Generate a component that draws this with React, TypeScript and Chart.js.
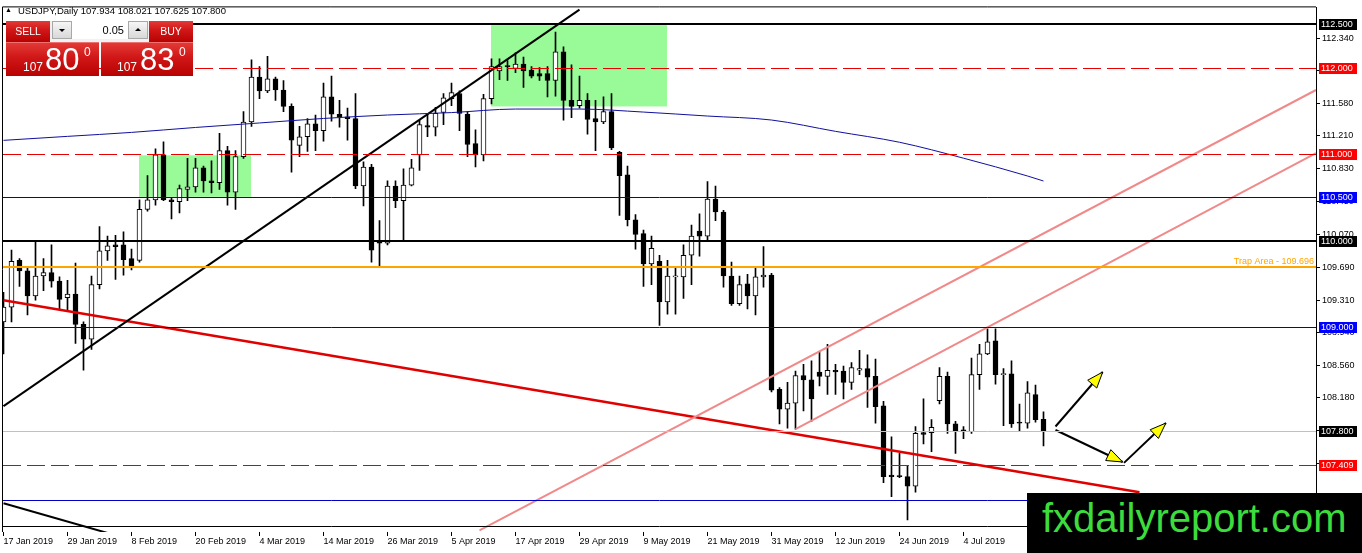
import React, { useEffect, useRef } from "react";
import { Chart, registerables } from "chart.js";

Chart.register(...registerables);

// ---------- DATA ----------
const SYMBOL = "USDJPY,Daily";

const OPEN = [
  109.06, 109.23, 109.77, 109.65, 109.36, 109.59, 109.63, 109.53, 109.34, 109.38,
  109.03, 108.86, 109.49, 109.88, 109.95, 109.95, 109.79, 109.77, 110.36, 110.47,
  110.99, 110.47, 110.45, 110.59, 110.62, 110.84, 110.69, 110.67, 111.04, 110.56,
  110.97, 111.37, 111.89, 111.73, 111.87, 111.74, 111.55, 111.10, 111.20, 111.35,
  111.27, 111.66, 111.46, 111.43, 111.41, 110.63, 110.85, 110.00, 109.97, 110.63,
  110.46, 110.64, 110.99, 111.33, 111.31, 111.48, 111.64, 111.70, 111.46, 111.12,
  110.99, 111.64, 111.96, 112.02, 111.99, 112.04, 111.97, 111.93, 111.93, 111.85,
  112.18, 111.62, 111.56, 111.62, 111.41, 111.37, 111.49, 111.02, 110.76, 110.24,
  110.08, 109.73, 109.76, 109.29, 109.58, 109.58, 109.83, 110.11, 110.05, 110.48,
  110.33, 109.59, 109.27, 109.50, 109.36, 109.58, 109.60, 108.28, 108.05, 108.12,
  108.44, 108.39, 108.48, 108.43, 108.50, 108.49, 108.36, 108.50, 108.52, 108.43,
  108.09, 107.29, 107.28, 107.27, 107.16, 107.78, 107.78, 108.15, 108.43, 107.88,
  107.81, 107.79, 108.45, 108.69, 108.84, 108.45, 108.46, 107.90, 107.89, 108.22,
  107.934,
];
const HIGH = [
  109.40, 109.89, 109.79, 109.69, 110.00, 109.79, 109.95, 109.58, 109.54, 109.74,
  109.06, 109.59, 110.16, 110.05, 110.06, 110.10, 109.90, 110.47, 110.75, 111.06,
  111.14, 110.50, 110.64, 110.95, 110.95, 110.86, 110.92, 111.24, 111.09, 111.04,
  111.49, 112.09, 112.01, 112.13, 111.89, 111.85, 111.58, 111.32, 111.41, 111.45,
  111.82, 111.90, 111.62, 111.53, 111.70, 110.91, 110.88, 110.23, 110.69, 110.69,
  110.83, 110.94, 111.39, 111.47, 111.54, 111.70, 111.82, 111.73, 111.49, 111.28,
  111.69, 112.10, 112.10, 112.08, 112.17, 112.12, 112.01, 112.00, 112.01, 112.41,
  112.24, 112.03, 111.90, 111.70, 111.62, 111.66, 111.70, 111.03, 110.86, 110.30,
  110.12, 110.05, 109.83, 109.77, 109.69, 109.95, 110.18, 110.31, 110.68, 110.63,
  110.35, 109.75, 109.59, 109.61, 109.68, 109.93, 109.62, 108.30, 108.36, 108.49,
  108.57, 108.61, 108.72, 108.80, 108.57, 108.55, 108.59, 108.73, 108.68, 108.63,
  108.14, 107.73, 107.54, 107.40, 107.85, 108.17, 107.93, 108.53, 108.48, 107.91,
  107.85, 108.64, 108.80, 108.98, 108.98, 108.52, 108.61, 108.11, 108.37, 108.33,
  108.021,
];
const LOW = [
  108.69, 109.06, 109.47, 109.14, 109.31, 109.42, 109.46, 109.21, 109.18, 108.81,
  108.50, 108.74, 109.44, 109.77, 109.55, 109.60, 109.66, 109.75, 110.34, 110.41,
  110.46, 110.25, 110.32, 110.46, 110.56, 110.56, 110.55, 110.59, 110.41, 110.36,
  110.95, 111.32, 111.64, 111.71, 111.62, 111.49, 110.79, 110.97, 111.03, 111.04,
  111.15, 111.38, 111.31, 111.16, 110.60, 110.40, 109.75, 109.71, 109.95, 110.38,
  110.01, 110.63, 110.81, 111.20, 111.21, 111.34, 111.56, 111.27, 110.97, 110.85,
  110.92, 111.58, 111.86, 111.85, 111.94, 111.77, 111.88, 111.85, 111.66, 111.67,
  111.39, 111.42, 111.53, 111.23, 111.04, 111.35, 111.05, 110.29, 110.17, 109.90,
  109.47, 109.49, 109.02, 109.15, 109.15, 109.33, 109.49, 109.82, 110.01, 110.23,
  109.46, 109.25, 109.25, 109.21, 109.14, 109.46, 108.25, 107.88, 107.83, 107.82,
  108.03, 107.91, 108.32, 108.22, 108.22, 108.17, 108.28, 108.45, 108.07, 107.89,
  107.20, 107.04, 107.26, 106.77, 107.09, 107.65, 107.56, 108.11, 107.77, 107.54,
  107.71, 107.77, 108.28, 108.68, 108.34, 107.86, 107.84, 107.80, 107.83, 107.90,
  107.625,
];
const CLOSE = [
  109.23, 109.76, 109.65, 109.36, 109.59, 109.63, 109.53, 109.32, 109.38, 109.03,
  108.86, 109.49, 109.88, 109.94, 109.93, 109.78, 109.71, 110.36, 110.47, 110.99,
  110.47, 110.45, 110.60, 110.62, 110.84, 110.69, 110.67, 111.04, 110.56, 110.97,
  111.37, 111.89, 111.73, 111.87, 111.74, 111.55, 111.16, 111.20, 111.35, 111.27,
  111.66, 111.46, 111.43, 111.41, 110.63, 110.85, 109.89, 109.97, 110.63, 110.46,
  110.64, 110.84, 111.34, 111.31, 111.47, 111.65, 111.71, 111.47, 111.11, 110.99,
  111.64, 112.01, 112.01, 112.01, 112.04, 111.96, 111.90, 111.90, 111.85, 112.18,
  111.62, 111.55, 111.62, 111.40, 111.37, 111.49, 111.07, 110.75, 110.24, 110.07,
  109.73, 109.91, 109.29, 109.59, 109.59, 109.83, 110.05, 110.05, 110.48, 110.33,
  109.59, 109.27, 109.49, 109.36, 109.58, 109.60, 108.27, 108.05, 108.12, 108.44,
  108.39, 108.17, 108.43, 108.50, 108.48, 108.36, 108.53, 108.52, 108.42, 108.08,
  107.27, 107.27, 107.27, 107.16, 107.77, 107.76, 107.84, 108.43, 107.88, 107.80,
  107.80, 108.45, 108.69, 108.83, 108.45, 108.46, 107.88, 107.89, 108.24, 107.93,
  107.800,
];

// date tick labels (one every 8 bars)
const X_TICK_INDEX = [0, 8, 16, 24, 32, 40, 48, 56, 64, 72, 80, 88, 96, 104, 112, 120];
const X_TICK_LABELS = [
  "17 Jan 2019", "29 Jan 2019", "8 Feb 2019", "20 Feb 2019", "4 Mar 2019", "14 Mar 2019",
  "26 Mar 2019", "5 Apr 2019", "17 Apr 2019", "29 Apr 2019", "9 May 2019", "21 May 2019",
  "31 May 2019", "12 Jun 2019", "24 Jun 2019", "4 Jul 2019",
];
// price scale tick labels
const PRICE_TICKS = [
  112.34, 111.96, 111.58, 111.21, 110.83, 110.45, 110.07, 109.69, 109.31, 108.94,
  108.56, 108.18, 107.8, 107.42, 107.04,
];
const Y_MIN = 106.6307;
const Y_MAX = 112.6949;
const X_MIN = -0.0625;
const X_MAX = 164.0625;

// moving average read at sample bars
const MA_INDEX = [0, 8, 16, 24, 32, 40, 48, 56, 64, 72, 80, 88, 96, 104, 112, 120, 128, 130];
const MA_VALUE = [
  111.158, 111.204, 111.25, 111.307, 111.359, 111.411, 111.451, 111.479, 111.52, 111.52,
  111.485, 111.439, 111.393, 111.262, 111.136, 110.952, 110.746, 110.688,
];

// horizontal levels
const LEVEL_PRICES = [112.5, 112.0, 111.0, 110.5, 110.0, 109.696, 109.0, 107.8, 107.409, 107.0, 106.7];
const LEVEL_KIND = ["black", "reddash", "reddash", "blue", "black", "orange", "blue", "bid", "reddash", "blue", "thin"];
const TRAP_LABEL = "Trap Area - 109.696";

// trend lines [x0, y0, x1, y1] in (bar index, price)
const TREND_UP_BLACK = [0, 108.086, 72, 112.67];
const TREND_LOW_BLACK = [0, 106.963, 16, 106.54];
const TREND_RED = [0, 109.31, 142, 107.09];
const CHANNEL_UPPER = [59.5, 106.65, 164.0625, 111.74];
const CHANNEL_LOWER = [99, 107.82, 164.0625, 111.01];

// green zones [x0, y0, x1, y1]
const ZONES = [
  [16.94, 110.985, 30.94, 110.505],
  [60.94, 112.49, 82.94, 111.55],
];

// arrows [x0, y0, x1, y1]
const ARROWS = [
  [131.5, 107.85, 137.4, 108.48],
  [131.5, 107.81, 139.9, 107.44],
  [140.06, 107.43, 145.3, 107.89],
];

// one-click panel
const SELL_PRICE = ["107", "80", "0"];
const BUY_PRICE = ["107", "83", "0"];
const LOT = "0.05";
const WATERMARK = "fxdailyreport.com";

// ---------- STYLES ----------
const LEVEL_STYLE: Record<string, { color: string; width: number; dash: number[]; box: string | null }> = {
  black: { color: "#000000", width: 2, dash: [], box: "#000000" },
  reddash: { color: "#e80000", width: 1, dash: [18, 6], box: "#ff0000" },
  blue: { color: "#0000c8", width: 1, dash: [], box: "#0000ff" },
  orange: { color: "#ffa500", width: 2, dash: [], box: null },
  bid: { color: "#c0c0c0", width: 1, dash: [], box: "#000000" },
  thin: { color: "#000000", width: 1, dash: [], box: null },
};
const FONT = '"Liberation Sans", Arial, sans-serif';

function seg(a: number[]) {
  return [
    { x: a[0], y: a[1] },
    { x: a[2], y: a[3] },
  ];
}

function lineDs(data: any[], color: string, width: number, smooth = false) {
  return {
    type: "line" as const,
    data,
    borderColor: color,
    borderWidth: width,
    pointRadius: 0,
    fill: false,
    tension: 0,
    cubicInterpolationMode: smooth ? ("monotone" as const) : ("default" as const),
    order: 0,
  };
}

const overlayPlugin = {
  id: "mt4overlay",
  beforeDatasetsDraw(chart: any) {
    const { ctx, chartArea: a, scales } = chart;
    const x = scales.x, y = scales.y;
    ctx.save();
    ctx.beginPath();
    ctx.rect(a.left, a.top, a.right - a.left, a.bottom - a.top);
    ctx.clip();
    ctx.fillStyle = "#98fb98";
    ZONES.forEach((z) => {
      const x0 = x.getPixelForValue(z[0]);
      const x1 = x.getPixelForValue(z[2]);
      const y0 = y.getPixelForValue(z[1]);
      const y1 = y.getPixelForValue(z[3]);
      ctx.fillRect(x0, y0, x1 - x0, y1 - y0);
    });
    ctx.restore();
  },
  afterDatasetsDraw(chart: any) {
    const { ctx, chartArea: a, scales } = chart;
    const x = scales.x, y = scales.y;
    ctx.save();
    ctx.beginPath();
    ctx.rect(a.left, a.top, a.right - a.left, a.bottom - a.top);
    ctx.clip();
    LEVEL_PRICES.forEach((p, i) => {
      const st = LEVEL_STYLE[LEVEL_KIND[i]];
      const raw = y.getPixelForValue(p);
      const py = st.width % 2 === 1 ? Math.round(raw) + 0.5 : Math.round(raw);
      ctx.beginPath();
      ctx.setLineDash(st.dash);
      ctx.lineWidth = st.width;
      ctx.strokeStyle = st.color;
      ctx.moveTo(a.left, py);
      ctx.lineTo(a.right, py);
      ctx.stroke();
    });
    ctx.setLineDash([]);
    // trap label
    const ty = y.getPixelForValue(LEVEL_PRICES[5]);
    ctx.fillStyle = "#ffa500";
    ctx.font = `9px ${FONT}`;
    ctx.textAlign = "right";
    ctx.textBaseline = "alphabetic";
    ctx.fillText(TRAP_LABEL, a.right - 2, ty - 3);
    ctx.restore();

    // arrow heads
    ctx.save();
    ARROWS.forEach((ar) => {
      const x0 = x.getPixelForValue(ar[0]), y0 = y.getPixelForValue(ar[1]);
      const x1 = x.getPixelForValue(ar[2]), y1 = y.getPixelForValue(ar[3]);
      const ang = Math.atan2(y1 - y0, x1 - x0);
      const L = 16, W = 6;
      const bx = x1 - L * Math.cos(ang), by = y1 - L * Math.sin(ang);
      const px = -Math.sin(ang) * W, pyy = Math.cos(ang) * W;
      ctx.beginPath();
      ctx.moveTo(x1, y1);
      ctx.lineTo(bx + px, by + pyy);
      ctx.lineTo(bx - px, by - pyy);
      ctx.closePath();
      ctx.fillStyle = "#ffff00";
      ctx.fill();
      ctx.lineWidth = 1;
      ctx.strokeStyle = "#000";
      ctx.stroke();
    });
    // frame left / top
    ctx.strokeStyle = "#000";
    ctx.lineWidth = 1;
    ctx.beginPath();
    ctx.moveTo(a.left - 0.5, a.bottom);
    ctx.lineTo(a.left - 0.5, a.top - 0.5);
    ctx.lineTo(a.right, a.top - 0.5);
    ctx.stroke();
    ctx.restore();
  },
  afterDraw(chart: any) {
    const { ctx, chartArea: a, scales } = chart;
    const y = scales.y;
    ctx.save();
    ctx.font = `9px ${FONT}`;
    ctx.textAlign = "left";
    ctx.textBaseline = "middle";
    LEVEL_PRICES.forEach((p, i) => {
      const st = LEVEL_STYLE[LEVEL_KIND[i]];
      if (!st.box) return;
      const py = Math.round(y.getPixelForValue(p));
      ctx.fillStyle = st.box;
      ctx.fillRect(a.right + 3, py - 5, 38, 11);
      ctx.fillStyle = "#ffffff";
      ctx.fillText(p.toFixed(3), a.right + 5, py + 1);
    });
    ctx.restore();
  },
};

export default function App() {
  const ref = useRef<HTMLCanvasElement>(null);

  useEffect(() => {
    const idx = OPEN.map((_, i) => i);
    const wickData = idx.map((i) => ({ x: i, y: [LOW[i], HIGH[i]] }));
    const bodyData = idx.map((i) => ({ x: i, y: [OPEN[i], CLOSE[i]] }));
    const bodyColors = idx.map((i) => (CLOSE[i] >= OPEN[i] ? "#ffffff" : "#000000"));
    const maData = MA_INDEX.map((v, k) => ({ x: v, y: MA_VALUE[k] }));

    const chart = new Chart(ref.current as HTMLCanvasElement, {
      type: "bar",
      data: {
        datasets: [
          lineDs(maData, "#10109c", 1, true),
          lineDs(seg(TREND_UP_BLACK), "#000000", 2),
          lineDs(seg(TREND_LOW_BLACK), "#000000", 2),
          lineDs(seg(CHANNEL_UPPER), "#f08a8a", 2),
          lineDs(seg(CHANNEL_LOWER), "#f08a8a", 2),
          lineDs(seg(TREND_RED), "#e00000", 2.5),
          ...ARROWS.map((ar) => lineDs(seg(ar), "#000000", 2)),
          {
            type: "bar" as const,
            data: bodyData as any,
            backgroundColor: bodyColors,
            borderColor: "#000000",
            borderWidth: 1,
            borderSkipped: false,
            barThickness: 5,
            grouped: false,
            minBarLength: 1,
            order: 2,
          },
          {
            type: "bar" as const,
            data: wickData as any,
            backgroundColor: "#000000",
            borderWidth: 0,
            barThickness: 1,
            grouped: false,
            order: 3,
          },
        ] as any,
      },
      options: {
        animation: false,
        responsive: false,
        devicePixelRatio: 1,
        layout: { padding: { left: 3, top: 3, right: 0, bottom: 0 } },
        plugins: { legend: { display: false }, tooltip: { enabled: false } },
        events: [],
        scales: {
          x: {
            type: "linear",
            min: X_MIN,
            max: X_MAX,
            offset: false,
            bounds: "data",
            afterFit: (s: any) => {
              s.height = 21;
            },
            afterBuildTicks: (s: any) => {
              s.ticks = X_TICK_INDEX.map((v) => ({ value: v }));
            },
            ticks: {
              autoSkip: false,
              maxRotation: 0,
              minRotation: 0,
              align: "start",
              padding: 0,
              color: "#000",
              font: { family: FONT, size: 9 },
              callback: (_v: any, i: number) => X_TICK_LABELS[i],
            },
            grid: { drawOnChartArea: false, drawTicks: true, tickLength: 4, color: "#000", offset: false },
            border: { display: false },
          },
          y: {
            type: "linear",
            position: "right",
            min: Y_MIN,
            max: Y_MAX,
            beginAtZero: false,
            bounds: "data",
            afterFit: (s: any) => {
              s.width = 46;
            },
            afterBuildTicks: (s: any) => {
              s.ticks = PRICE_TICKS.map((v) => ({ value: v }));
            },
            ticks: {
              autoSkip: false,
              padding: 2,
              color: "#000",
              font: { family: FONT, size: 9 },
              callback: (v: any) => Number(v).toFixed(3),
            },
            grid: { drawOnChartArea: false, drawTicks: true, tickLength: 4, color: "#000" },
            border: { display: true, color: "#000", width: 1 },
          },
        },
      } as any,
      plugins: [overlayPlugin],
    });
    return () => chart.destroy();
  }, []);

  const last = OPEN.length - 1;
  const header = `${SYMBOL}  ${OPEN[last].toFixed(3)} ${HIGH[last].toFixed(3)} ${LOW[last].toFixed(3)} ${CLOSE[last].toFixed(3)}`;
  const red = "linear-gradient(180deg, #e23a36 0%, #d01616 45%, #b80202 100%)";
  const abs: React.CSSProperties = { position: "absolute", fontFamily: FONT, whiteSpace: "nowrap" };
  const greyBtn: React.CSSProperties = {
    ...abs,
    top: 21,
    width: 20,
    height: 18,
    background: "linear-gradient(180deg,#f6f6f6,#d8d8d8)",
    border: "1px solid #a8a8a8",
    boxSizing: "border-box",
  };

  const priceBox = (left: number, width: number, parts: string[], x107: number, xBig: number, xSup: number) => (
    <>
      <div style={{ ...abs, left, top: 42, width, height: 34, background: red, borderTop: "1px solid #f07070", boxSizing: "border-box" }} />
      <div style={{ ...abs, left: x107, top: 60.5, fontSize: 12, lineHeight: "12px", color: "#fff" }}>{parts[0]}</div>
      <div style={{ ...abs, left: xBig, top: 44, fontSize: 31, lineHeight: "31px", color: "#fff" }}>{parts[1]}</div>
      <div style={{ ...abs, left: xSup, top: 45.5, fontSize: 12, lineHeight: "12px", color: "#fff" }}>{parts[2]}</div>
    </>
  );

  return (
    <div style={{ position: "fixed", left: 0, top: 0, width: 1362, height: 553, background: "#fff", overflow: "hidden" }}>
      <canvas ref={ref} width={1362} height={553} style={{ display: "block", width: 1362, height: 553 }} />
      {/* header */}
      <div style={{ ...abs, left: 5, top: 6, fontSize: 7, lineHeight: "8px", color: "#000" }}>▲</div>
      <div style={{ ...abs, left: 18, top: 5.5, fontSize: 9.5, lineHeight: "10px", color: "#000" }}>{header}</div>
      {/* one-click panel */}
      <div style={{ ...abs, left: 50, top: 21, width: 99, height: 21, background: "#f2f2f2" }} />
      <div style={{ ...abs, left: 6, top: 21, width: 44, height: 21, background: red, color: "#fff", fontSize: 10.5, lineHeight: "21px", textAlign: "center" }}>SELL</div>
      <div style={{ ...abs, left: 149, top: 21, width: 44, height: 21, background: red, color: "#fff", fontSize: 10.5, lineHeight: "21px", textAlign: "center" }}>BUY</div>
      <div style={{ ...greyBtn, left: 52 }}>
        <div style={{ position: "absolute", left: 6, top: 7, width: 0, height: 0, borderLeft: "3px solid transparent", borderRight: "3px solid transparent", borderTop: "3px solid #000" }} />
      </div>
      <div style={{ ...abs, left: 72, top: 21, width: 56, height: 18, background: "#fff", color: "#000", fontSize: 11, lineHeight: "18px", textAlign: "right", paddingRight: 4, boxSizing: "border-box" }}>{LOT}</div>
      <div style={{ ...greyBtn, left: 128 }}>
        <div style={{ position: "absolute", left: 6, top: 6, width: 0, height: 0, borderLeft: "3px solid transparent", borderRight: "3px solid transparent", borderBottom: "3px solid #000" }} />
      </div>
      {priceBox(6, 93, SELL_PRICE, 23, 45, 84)}
      {priceBox(101, 92, BUY_PRICE, 117, 140, 179)}
      {/* watermark */}
      <div style={{ ...abs, left: 1027, top: 493, width: 335, height: 60, background: "#000" }} />
      <div style={{ ...abs, left: 1042, top: 498, fontSize: 40, lineHeight: "40px", color: "#3ddc3d" }}>{WATERMARK}</div>
    </div>
  );
}
